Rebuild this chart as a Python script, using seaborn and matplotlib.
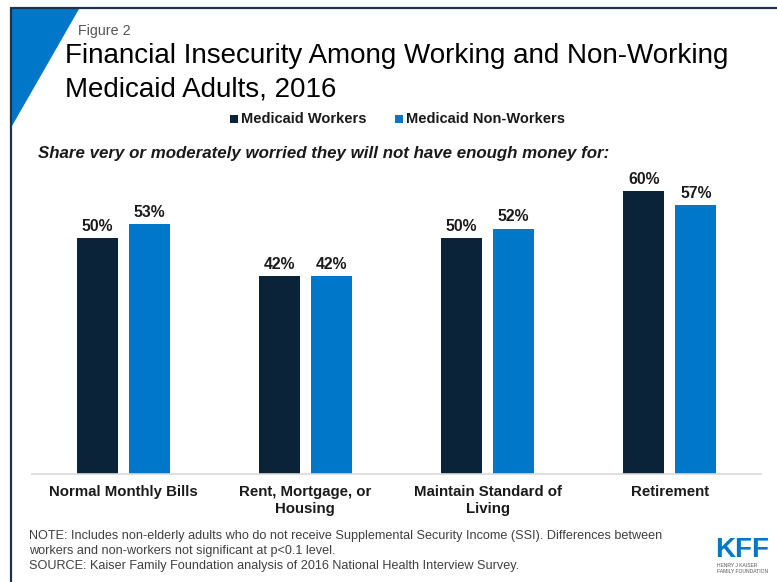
import matplotlib
matplotlib.use("Agg")
import matplotlib.pyplot as plt
import seaborn as sns
import pandas as pd
from matplotlib.patches import Polygon
from matplotlib.lines import Line2D

categories = ["Normal Monthly Bills", "Rent, Mortgage, or\nHousing",
              "Maintain Standard of\nLiving", "Retirement"]
series_names = ["Medicaid Workers", "Medicaid Non-Workers"]
workers = [50, 42, 50, 60]
non_workers = [53, 42, 52, 57]
colors = ["#0b2339", "#0077c8"]

df = pd.DataFrame({
    "category": categories * 2,
    "group": [series_names[0]] * 4 + [series_names[1]] * 4,
    "value": workers + non_workers,
})

sns.set_theme(style="white")
plt.rcParams["font.family"] = ["Liberation Sans", "DejaVu Sans"]

W, H = 777, 582
fig = plt.figure(figsize=(W / 100, H / 100), dpi=100)

def fx(px):
    return px / W

def fy(py):
    return 1 - py / H

# axes: x from 32 to 761 px, baseline at 474 px, top at 160 px
ax = fig.add_axes([fx(32), fy(474), fx(761) - fx(32), fy(160) - fy(474)])
sns.barplot(data=df, x="category", y="value", hue="group", palette=colors,
            width=0.57, gap=0.21, ax=ax, legend=False, saturation=1,
            edgecolor="none")
ax.set_xlim(-0.5, 3.5)
ax.set_ylim(0, 314 / 4.72)
for s in ["top", "right", "left"]:
    ax.spines[s].set_visible(False)
ax.spines["bottom"].set_color("#d9d9d9")
ax.spines["bottom"].set_linewidth(1.2)
ax.set_yticks([])
ax.set_xlabel("")
ax.set_ylabel("")
ax.tick_params(axis="x", length=0, pad=8)
for lbl in ax.get_xticklabels():
    lbl.set_fontweight("bold")
    lbl.set_fontsize(10.8)
    lbl.set_color("#1a1a1a")
    lbl.set_linespacing(1.3)

for cont in ax.containers:
    ax.bar_label(cont, labels=[f"{int(v)}%" for v in cont.datavalues],
                 padding=3, fontsize=11.3, fontweight="bold", color="#1a1a1a")

# frame lines (left and top)
fig.add_artist(Line2D([fx(11), fx(11)], [fy(8), 0], color="#1f3347", lw=1.6,
                      transform=fig.transFigure))
fig.add_artist(Line2D([fx(11), 1], [fy(8), fy(8)], color="#1f3347", lw=1.6,
                      transform=fig.transFigure))
# blue triangle
fig.add_artist(Polygon([[fx(12), fy(9)], [fx(79), fy(9)], [fx(12), fy(126)]],
                       closed=True, facecolor="#0077c8", edgecolor="none",
                       transform=fig.transFigure))

fig.text(fx(78), fy(31), "Figure 2", fontsize=10.3, color="#555555",
         va="center", ha="left")
fig.text(fx(65), fy(56), "Financial Insecurity Among Working and Non-Working",
         fontsize=20.0, color="#000000", va="center", ha="left")
fig.text(fx(65), fy(89), "Medicaid Adults, 2016",
         fontsize=20.0, color="#000000", va="center", ha="left")

# legend
leg_items = [(231, series_names[0], colors[0]), (396, series_names[1], colors[1])]
for x0, name, c in leg_items:
    fig.add_artist(plt.Rectangle((fx(x0 - 1), fy(123)), fx(8), fy(115) - fy(123),
                                 facecolor=c, edgecolor="none",
                                 transform=fig.transFigure))
    fig.text(fx(x0 + 10), fy(119), name, fontsize=10.5, fontweight="bold",
             color="#1a1a1a", va="center", ha="left")

fig.text(fx(38), fy(154),
         "Share very or moderately worried they will not have enough money for:",
         fontsize=12.2, fontweight="bold", fontstyle="italic", color="#1a1a1a",
         va="center", ha="left")

notes = ("NOTE: Includes non-elderly adults who do not receive Supplemental Security Income (SSI). Differences between\n"
         "workers and non-workers not significant at p<0.1 level.\n"
         "SOURCE: Kaiser Family Foundation analysis of 2016 National Health Interview Survey.")
fig.text(fx(29), fy(530), notes, fontsize=9.1, color="#404040", va="top",
         ha="left", linespacing=1.35)

# KFF logo
fig.text(fx(742), fy(550), "KFF", fontsize=20, fontweight="bold",
         color="#0077c8", va="center", ha="center")
fig.text(fx(717), fy(568.5), "HENRY J KAISER\nFAMILY FOUNDATION", fontsize=3.6,
         color="#555555", va="center", ha="left", linespacing=1.1)

fig.savefig("out.png", dpi=100)
